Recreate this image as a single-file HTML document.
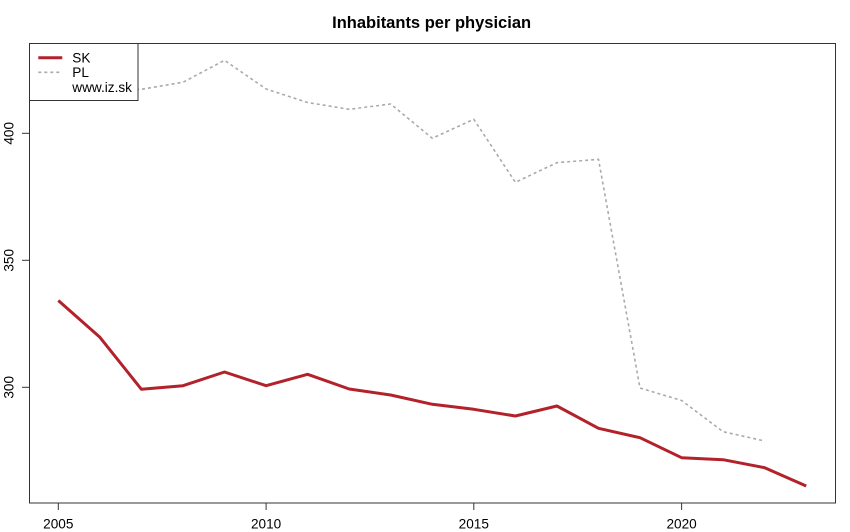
<!DOCTYPE html>
<html>
<head>
<meta charset="utf-8">
<style>
html,body{margin:0;padding:0;background:#fff;}
svg{display:block;}
text{font-family:"Liberation Sans",Arial,sans-serif;fill:#000;}
</style>
</head>
<body>
<svg width="850" height="532" viewBox="0 0 850 532" xmlns="http://www.w3.org/2000/svg">
<rect x="0" y="0" width="850" height="532" fill="#fff"/>
<text x="431.6" y="28" font-size="16.5" font-weight="bold" text-anchor="middle">Inhabitants per physician</text>

<!-- PL series -->
<polyline fill="none" stroke="#aaaaaa" stroke-width="1.6" stroke-dasharray="3 3" stroke-linejoin="round"
 points="58.3,96 99.9,92 141.4,89.3 183.0,82.3 224.5,60.3 266.1,89 307.6,102.5 349.2,109.3 390.7,104 432.3,138.3 473.8,119.3 515.4,182.3 556.9,162.7 598.5,159.3 640.0,388 681.6,400.5 723.1,431.7 764.7,441"/>

<!-- SK series -->
<polyline fill="none" stroke="#b3222a" stroke-width="3" stroke-linejoin="round"
 points="58.3,300.5 99.9,337.3 141.4,389.3 183.0,385.7 224.5,372 266.1,385.7 307.6,374.3 349.2,389 390.7,395 432.3,404.3 473.8,409.3 515.4,416 556.9,406 598.5,428.3 640.0,437.7 681.6,457.7 723.1,459.7 764.7,467.7 806.2,486"/>

<!-- plot box -->
<rect x="29.5" y="43.5" width="806" height="459.5" fill="none" stroke="#333" stroke-width="1"/>

<!-- x ticks -->
<g stroke="#333" stroke-width="1">
<line x1="58.3" y1="503" x2="58.3" y2="510"/>
<line x1="266.1" y1="503" x2="266.1" y2="510"/>
<line x1="473.8" y1="503" x2="473.8" y2="510"/>
<line x1="681.6" y1="503" x2="681.6" y2="510"/>
<line x1="22" y1="133.3" x2="29.5" y2="133.3"/>
<line x1="22" y1="260.3" x2="29.5" y2="260.3"/>
<line x1="22" y1="387.3" x2="29.5" y2="387.3"/>
</g>
<g font-size="13.6" text-anchor="middle">
<text x="58.3" y="528.5">2005</text>
<text x="266.1" y="528.5">2010</text>
<text x="473.8" y="528.5">2015</text>
<text x="681.6" y="528.5">2020</text>
<text transform="translate(13.5,133.3) rotate(-90)" x="0" y="0">400</text>
<text transform="translate(13.5,260.3) rotate(-90)" x="0" y="0">350</text>
<text transform="translate(13.5,387.3) rotate(-90)" x="0" y="0">300</text>
</g>

<!-- legend -->
<rect x="29.5" y="43.5" width="108.5" height="57" fill="#fff" stroke="#333" stroke-width="1"/>
<line x1="38.3" y1="57.7" x2="62.3" y2="57.7" stroke="#b3222a" stroke-width="3"/>
<line x1="38.3" y1="72.3" x2="62.3" y2="72.3" stroke="#aaaaaa" stroke-width="1.6" stroke-dasharray="3 3"/>
<g font-size="13.6">
<text x="72.3" y="62.5">SK</text>
<text x="72.3" y="77.2">PL</text>
<text x="72.3" y="92">www.iz.sk</text>
</g>
</svg>
</body>
</html>
